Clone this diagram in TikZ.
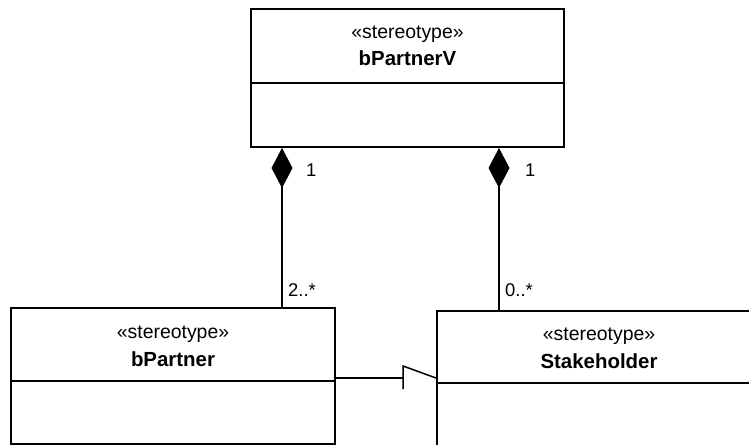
\documentclass[tikz,border=0pt]{standalone}
\usepackage{fontspec}
\setmainfont{Liberation Sans}
\usetikzlibrary{arrows.meta}
\begin{document}
\begin{tikzpicture}[x=1bp,y=-1bp,
  classbox/.style={draw, line width=2bp, inner sep=0pt, anchor=north west},
  sep/.style={line width=1.5bp},
  assoc/.style={line width=1.5bp},
  comp/.style={assoc, -{Diamond[length=40bp,width=21bp]}},
  stereo/.style={font=\fontsize{19.5}{22}\selectfont, anchor=base, inner sep=0pt},
  cname/.style={font=\fontsize{20.5}{23}\selectfont\bfseries, anchor=base, inner sep=0pt},
  mult/.style={font=\fontsize{18.5}{21}\selectfont, anchor=base west, inner sep=0pt}]
\useasboundingbox (0,0) rectangle (749,445);
\clip (0,0) rectangle (749,445);

% class boxes
\node[classbox, minimum width=313bp, minimum height=138bp] (V) at (250,8) {};
\node[classbox, minimum width=324bp, minimum height=136bp] (P) at (10,307) {};
\node[classbox, minimum width=324bp, minimum height=140bp] (S) at (436,310) {};

% compartment separators
\draw[sep] ([yshift=-75bp]V.north west) -- ([yshift=-75bp]V.north east);
\draw[sep] ([yshift=-74bp]P.north west) -- ([yshift=-74bp]P.north east);
\draw[sep] ([yshift=-73bp]S.north west) -- ([yshift=-73bp]S.north east);

% class names
\node[stereo] (Vst) at ([yshift=-31bp]V.north) {«stereotype»};
\node[cname]  (Vnm) at ([yshift=-58bp]V.north) {bPartnerV};
\node[stereo] (Pst) at ([yshift=-31bp]P.north) {«stereotype»};
\node[cname]  (Pnm) at ([yshift=-59bp]P.north) {bPartner};
\node[stereo] (Sst) at ([yshift=-30bp]S.north) {«stereotype»};
\node[cname]  (Snm) at ([yshift=-58bp]S.north) {Stakeholder};

% compositions
\coordinate (xL) at (282,0);
\coordinate (xR) at (499,0);
\draw[comp] (P.north -| xL) -- (V.south -| xL);
\draw[comp] (S.north -| xR) -- (V.south -| xR);

% multiplicities
\node[mult] (mL1) at (306,177) {1};
\node[mult] (mR1) at (525,177) {1};
\node[mult] (mL2) at (288,297) {2..*};
\node[mult] (mR2) at (505,297) {0..*};

% association between bPartner and Stakeholder
\coordinate (k1) at (403,378);
\coordinate (k2) at (403,366);
\coordinate (k3) at (403,389);
\draw[assoc] (P.east |- k1) -- (k1);
\draw[assoc] (k3) -- (k2) -- (S.west |- k1);
\end{tikzpicture}
\end{document}
